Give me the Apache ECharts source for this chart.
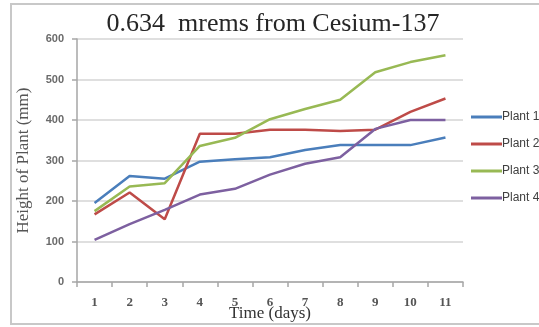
<!DOCTYPE html>
<html>
<head>
<meta charset="utf-8">
<script src="https://cdn.jsdelivr.net/npm/echarts@6/dist/echarts.min.js"></script>
<style>
  html, body { margin: 0; padding: 0; background: #fff; }
  #chart { width: 539px; height: 327px; }
</style>
</head>
<body>
<div id="chart"></div>
<script>
// Days on the x axis
const days = ['1', '2', '3', '4', '5', '6', '7', '8', '9', '10', '11'];

// Plant heights in mm
const plant1 = [195, 262, 255, 297, 303, 308, 326, 338, 338, 338, 357];
const plant2 = [167, 221, 155, 366, 366, 376, 376, 373, 376, 420, 453];
const plant3 = [175, 236, 244, 336, 356, 402, 427, 450, 518, 543, 560];
const plant4 = [104, 143, 178, 216, 230, 265, 292, 308, 378, 400, 400];

const seriesNames = ['Plant 1', 'Plant 2', 'Plant 3', 'Plant 4'];
const seriesData = [plant1, plant2, plant3, plant4];
const seriesColors = ['#4a7ebb', '#be4b48', '#98b954', '#7d60a0'];

const chart = echarts.init(document.getElementById('chart'), null, { renderer: 'canvas' });

chart.setOption({
  backgroundColor: '#ffffff',
  animation: false,
  title: {
    text: '0.634  mrems from Cesium-137',
    left: 268,
    textAlign: 'center',
    top: 6,
    textStyle: {
      fontFamily: 'Liberation Serif',
      fontWeight: 'normal',
      fontSize: 26,
      color: '#262626'
    }
  },
  graphic: [{
    type: 'rect',
    shape: { x: 11, y: 4, width: 540, height: 320 },
    style: { fill: 'none', stroke: '#c8c8c8', lineWidth: 2 },
    silent: true
  }],
  legend: {
    orient: 'vertical',
    left: 466,
    top: 105,
    itemWidth: 31,
    itemHeight: 14,
    itemGap: 13,
    icon: 'path://M0,6 L31,6 L31,9 L0,9 Z',
    textStyle: {
      fontFamily: 'Liberation Sans',
      fontSize: 12,
      lineHeight: 14,
      color: '#404040',
      padding: [0, 0, 0, -5]
    },
    data: seriesNames
  },
  grid: { left: 77, right: 76, top: 39, bottom: 45, outerBoundsMode: 'none' },
  xAxis: {
    type: 'category',
    data: days,
    boundaryGap: true,
    name: 'Time (days)',
    nameLocation: 'middle',
    nameGap: 23,
    nameMoveOverlap: false,
    nameTextStyle: {
      fontFamily: 'Liberation Serif',
      fontSize: 17,
      color: '#333333'
    },
    axisLine: { lineStyle: { color: '#a6a6a6', width: 1.5 } },
    axisTick: { show: true, length: 5, interval: 0, lineStyle: { color: '#a6a6a6', width: 1.5 } },
    axisLabel: {
      margin: 14,
      fontFamily: 'Liberation Serif',
      fontWeight: 'bold',
      fontSize: 13,
      color: '#555555'
    }
  },
  yAxis: {
    type: 'value',
    min: 0,
    max: 600,
    interval: 100,
    name: 'Height of Plant (mm)',
    nameLocation: 'middle',
    nameGap: 45,
    nameMoveOverlap: false,
    nameTextStyle: {
      fontFamily: 'Liberation Serif',
      fontSize: 17,
      color: '#555555'
    },
    axisLine: { show: true, lineStyle: { color: '#a6a6a6', width: 1.5 } },
    axisTick: { show: true, length: 5, lineStyle: { color: '#a6a6a6', width: 1.5 } },
    splitLine: { lineStyle: { color: '#d4d4d4', width: 1.5 } },
    axisLabel: {
      margin: 13,
      fontFamily: 'Liberation Sans',
      fontWeight: 'bold',
      fontSize: 11,
      color: '#6a6a6a'
    }
  },
  series: seriesNames.map((name, i) => ({
    name: name,
    type: 'line',
    data: seriesData[i],
    symbol: 'none',
    lineStyle: { width: 2.5, color: seriesColors[i] },
    itemStyle: { color: seriesColors[i] }
  }))
});
</script>
</body>
</html>
